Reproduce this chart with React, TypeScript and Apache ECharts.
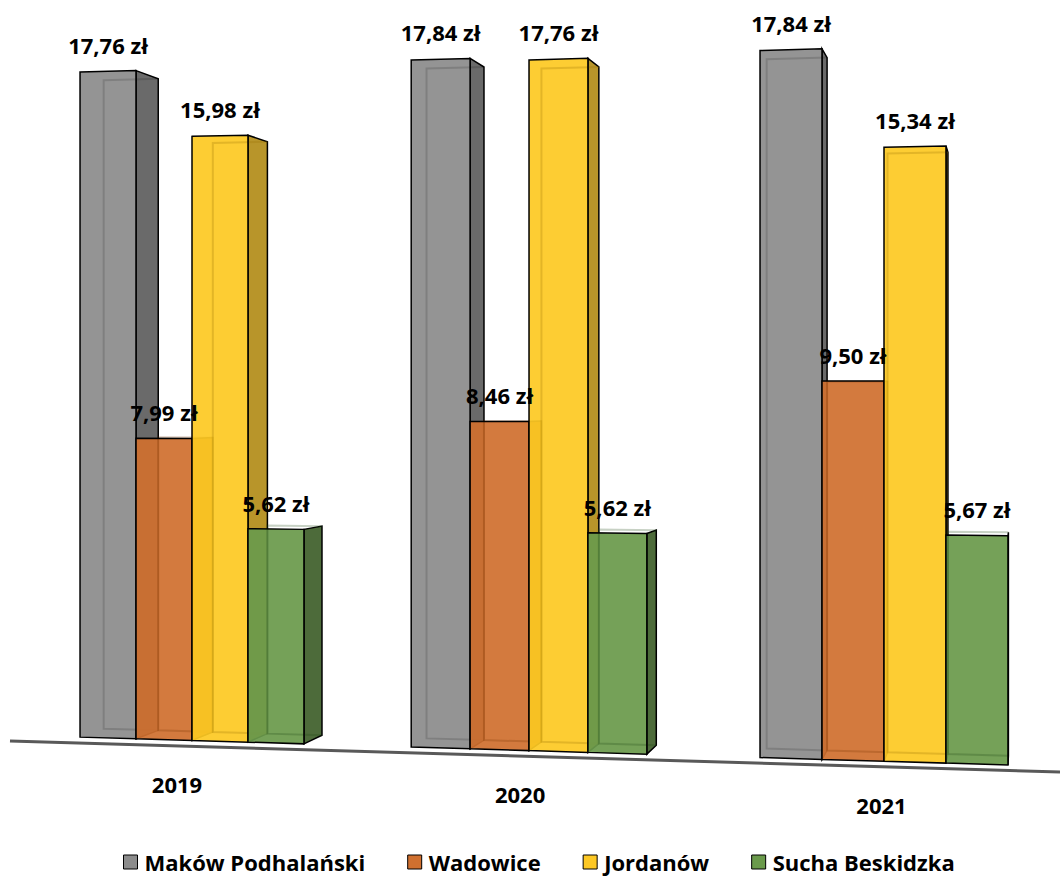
import React, { useEffect, useRef } from "react";
import * as echarts from "echarts";

// ---- data ----
const years = ["2019", "2020", "2021"];
const cities = ["Maków Podhalański", "Wadowice", "Jordanów", "Sucha Beskidzka"];
const makow = [17.76, 17.84, 17.84];
const wadowice = [7.99, 8.46, 9.5];
const jordanow = [15.98, 17.76, 15.34];
const sucha = [5.62, 5.62, 5.67];
const seriesValues = [makow, wadowice, jordanow, sucha];

// ---- styles ----
const legendColors = ["#8c8c8c", "#d0702f", "#fdc824", "#6a9a4b"];
const frontColors = [
  "rgba(140,140,140,0.93)",
  "rgba(208,112,47,0.93)",
  "rgba(253,201,36,0.93)",
  "rgba(106,154,75,0.93)",
];
const sideColors = ["#6a6a6a", "#a3531f", "#b8952a", "#4d6b3a"];
const innerColors = [
  "rgba(0,0,0,0.14)",
  "rgba(120,50,0,0.25)",
  "rgba(150,110,0,0.25)",
  "rgba(30,70,20,0.25)",
];
const FONT = "'Open Sans', 'Noto Sans', sans-serif";

// perspective parameters (layout)
const REF_X = 192;
const SLOPE = 0.03;
const H_K = 8.5e-5;
const W_K = 1.55e-4;
const BAR_FRAC = 0.1618;
const VP = [1025, 400];
const T = 0.025;

const fmt = (v: number) => v.toFixed(2).replace(".", ",") + " zł";

function geom(api: any, cat: number, v: number, idx: number) {
  const c0 = api.coord([cat, 0]);
  const y0 = c0[1];
  const ppu = y0 - api.coord([cat, 1])[1];
  const band = api.size([1, 0])[0];
  const c = c0[0] - 7.5e-5 * (c0[0] - 192) * (884 - c0[0]);
  const w = band * BAR_FRAC * (1 + (c - REF_X) * W_K);
  const xL = c - 2 * w + idx * w;
  const xR = xL + w;
  const yb = (x: number) => y0 + (x - REF_X) * SLOPE;
  const h = (x: number) => v * ppu * (1 + (x - REF_X) * H_K);
  const BL = [xL, yb(xL)];
  const BR = [xR, yb(xR)];
  const TL = [xL, yb(xL) - h(xL)];
  const TR = [xR, yb(xR) - h(xR)];
  return { c, w, xL, xR, BL, BR, TL, TR, yb };
}
const back = (p: number[]) => [p[0] + (VP[0] - p[0]) * T, p[1] + (VP[1] - p[1]) * T];

function boxRenderer(idx: number) {
  return (params: any, api: any) => {
    const cat = api.value(0);
    const v = api.value(1);
    const g = geom(api, cat, v, idx);
    const { BL, BR, TL, TR } = g;
    const bTL = back(TL), bTR = back(TR), bBL = back(BL), bBR = back(BR);
    return {
      type: "group",
      children: [
        {
          type: "polygon",
          shape: { points: [TR, bTR, bBR, BR] },
          style: { fill: sideColors[idx], stroke: "#000", lineWidth: 1.5 },
        },
        {
          type: "polygon",
          shape: { points: [TL, TR, BR, BL] },
          style: { fill: frontColors[idx], stroke: "none" },
        },
        {
          type: "polyline",
          shape: { points: [bBR, bBL, bTL, bTR] },
          style: { stroke: innerColors[idx], lineWidth: 2, fill: "none" },
        },
        {
          type: "polygon",
          shape: { points: [TL, TR, BR, BL] },
          style: { fill: "none", stroke: "#000", lineWidth: 1.5 },
        },
      ],
    };
  };
}

const labelData: number[][] = [];
seriesValues.forEach((vals, s) => vals.forEach((v, i) => labelData.push([i, s, v])));

export default function App() {
  const ref = useRef<HTMLDivElement>(null);
  useEffect(() => {
    if (!ref.current) return;
    const chart = echarts.init(ref.current, null, { renderer: "svg" });
    const boxSeries = cities.map((name, s) => ({
      type: "custom",
      name,
      data: seriesValues[s].map((v, i) => [i, v]),
      encode: { x: 0, y: 1 },
      itemStyle: { color: legendColors[s], borderColor: "#000", borderWidth: 1 },
      renderItem: boxRenderer(s),
      silent: true,
    }));
    chart.setOption({
      animation: false,
      backgroundColor: "#ffffff",
      grid: { left: 19, right: 3, top: 60, bottom: 136.5 },
      xAxis: {
        type: "category",
        data: years,
        show: false,
      },
      yAxis: { type: "value", min: 0, max: 18, show: false },
      legend: {
        left: 123,
        top: 851,
        padding: 0,
        itemWidth: 14,
        itemHeight: 14,
        itemGap: 42,
        icon: "rect",
        data: cities,
        itemStyle: { borderColor: "#000", borderWidth: 1 },
        textStyle: {
          fontFamily: FONT,
          fontWeight: "bold",
          fontSize: 22,
          lineHeight: 18,
          color: "#000",
          padding: [0, 0, 0, 2],
        },
      },
      graphic: [
        {
          type: "line",
          shape: { x1: 10, y1: 741, x2: 1060, y2: 772 },
          style: { stroke: "#595959", lineWidth: 3 },
          z: 1,
        },
      ],
      series: [
        ...boxSeries,
        {
          type: "custom",
          name: "labels",
          z: 10,
          silent: true,
          data: labelData,
          encode: { x: 0, y: 2 },
          renderItem: (params: any, api: any) => {
            const cat = api.value(0);
            const s = api.value(1);
            const v = api.value(2);
            const g = geom(api, cat, v, s);
            const top = Math.min(g.TL[1], g.TR[1]);
            return {
              type: "text",
              style: {
                text: fmt(v),
                x: (g.xL + g.xR) / 2,
                y: top - 26,
                align: "center",
                verticalAlign: "middle",
                fill: "#000",
                font: `bold 22px ${FONT}`,
              },
            };
          },
        },
        {
          type: "custom",
          name: "years",
          z: 10,
          silent: true,
          data: years.map((y, i) => [i, 0]),
          encode: { x: 0, y: 1 },
          renderItem: (params: any, api: any) => {
            const cat = api.value(0);
            const g = geom(api, cat, 0, 2);
            const x = g.c - (VP[0] - g.c) * 0.018;
            return {
              type: "text",
              style: {
                text: years[cat],
                x,
                y: g.yb(x) + 44,
                align: "center",
                verticalAlign: "middle",
                fill: "#000",
                font: `bold 22px ${FONT}`,
              },
            };
          },
        },
      ],
    });
    return () => chart.dispose();
  }, []);
  return (
    <div
      ref={ref}
      style={{ position: "absolute", left: 0, top: 0, width: 1060, height: 877 }}
    />
  );
}
